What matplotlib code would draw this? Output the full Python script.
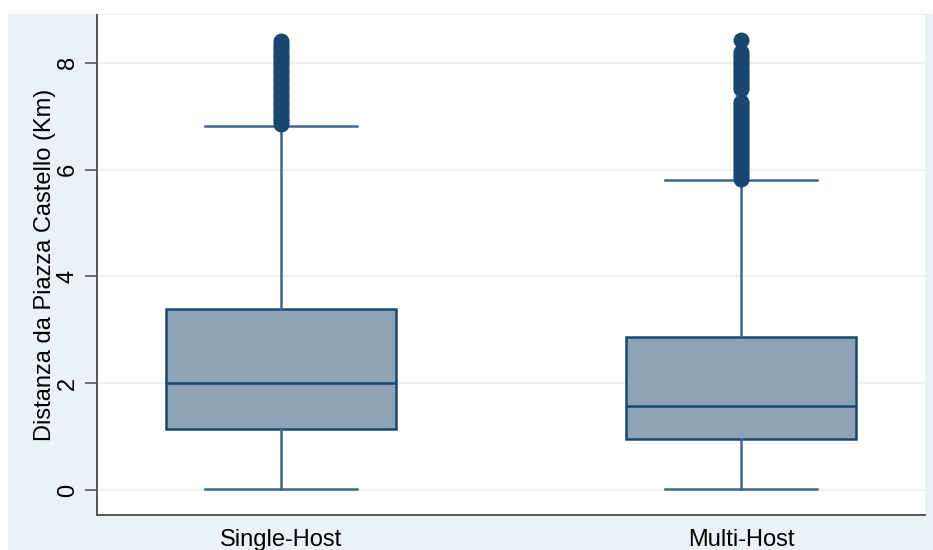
import numpy as np
import matplotlib.pyplot as plt

plt.rcParams['font.family'] = ['Liberation Sans', 'DejaVu Sans']

# box summaries for distance from Piazza Castello (km)
groups = ['Single-Host', 'Multi-Host']
lower_whisker = [0.02, 0.02]
q1 = [1.15, 0.96]
median = [2.01, 1.58]
q3 = [3.39, 2.87]
upper_whisker = [6.82, 5.81]

# outlying observations above the upper whisker
outliers_single = [6.85, 6.90, 6.95, 7.00, 7.05, 7.10, 7.15, 7.20, 7.25, 7.30,
                   7.35, 7.40, 7.45, 7.50, 7.55, 7.60, 7.65, 7.70, 7.75, 7.80,
                   7.85, 7.90, 7.95, 8.00, 8.05, 8.10, 8.15, 8.20, 8.25, 8.30,
                   8.35, 8.40]
outliers_multi = [5.82, 5.87, 5.92, 5.97, 6.02, 6.07, 6.12, 6.17, 6.22, 6.27,
                  6.32, 6.37, 6.42, 6.47, 6.52, 6.57, 6.62, 6.67, 6.72, 6.77,
                  6.82, 6.87, 6.92, 6.97, 7.02, 7.07, 7.12, 7.17, 7.22, 7.26,
                  7.50, 7.55, 7.60, 7.65, 7.70, 7.75, 7.80, 7.85, 7.90, 7.95,
                  8.00, 8.05, 8.10, 8.15, 8.20, 8.42]
outliers = [outliers_single, outliers_multi]

y_ticks = [0, 2, 4, 6, 8]

navy = '#1a476f'
fill = '#8ca2b7'
whisk = '#3e6790'
bg = '#eaf2f3'

fig = plt.figure(figsize=(9.33, 5.5), dpi=100)
fig.patch.set_facecolor('white')
fig.patches.append(plt.Rectangle((8 / 933, 0), 1, 1 - 14 / 550,
                                 transform=fig.transFigure, color=bg, zorder=-10))

ax = fig.add_axes([97 / 933, 35 / 550, 828 / 933, 500 / 550])
ax.set_facecolor('white')

stats = []
for i, g in enumerate(groups):
    stats.append(dict(label=g, whislo=lower_whisker[i], q1=q1[i], med=median[i],
                      q3=q3[i], whishi=upper_whisker[i], fliers=outliers[i]))

ax.bxp(stats, positions=[1, 2], widths=0.5, patch_artist=True,
       boxprops=dict(facecolor=fill, edgecolor=navy, linewidth=1.8),
       medianprops=dict(color=navy, linewidth=1.8),
       whiskerprops=dict(color=whisk, linewidth=1.8),
       capprops=dict(color=whisk, linewidth=1.8),
       capwidths=0.33,
       flierprops=dict(marker='o', markersize=10.5, markerfacecolor=navy,
                       markeredgecolor=navy))

ax.set_xlim(0.6, 2.4)
ax.set_ylim(-0.46, 8.89)
ax.set_yticks(y_ticks)
ax.set_yticklabels([str(t) for t in y_ticks], rotation=90, va='center', fontsize=17)
ax.yaxis.grid(True, color=bg, linewidth=1.6)
ax.set_axisbelow(True)

ax.tick_params(axis='y', length=9, width=1.2, color='#555555', pad=4)
ax.tick_params(axis='x', length=0, pad=10, labelsize=17)
for s in ['top', 'right']:
    ax.spines[s].set_visible(False)
for s in ['left', 'bottom']:
    ax.spines[s].set_color('#555555')
    ax.spines[s].set_linewidth(1.4)

ax.set_ylabel('Distanza da Piazza Castello (Km)', fontsize=17, labelpad=1)

fig.savefig('out.png', dpi=100, facecolor=fig.get_facecolor())
